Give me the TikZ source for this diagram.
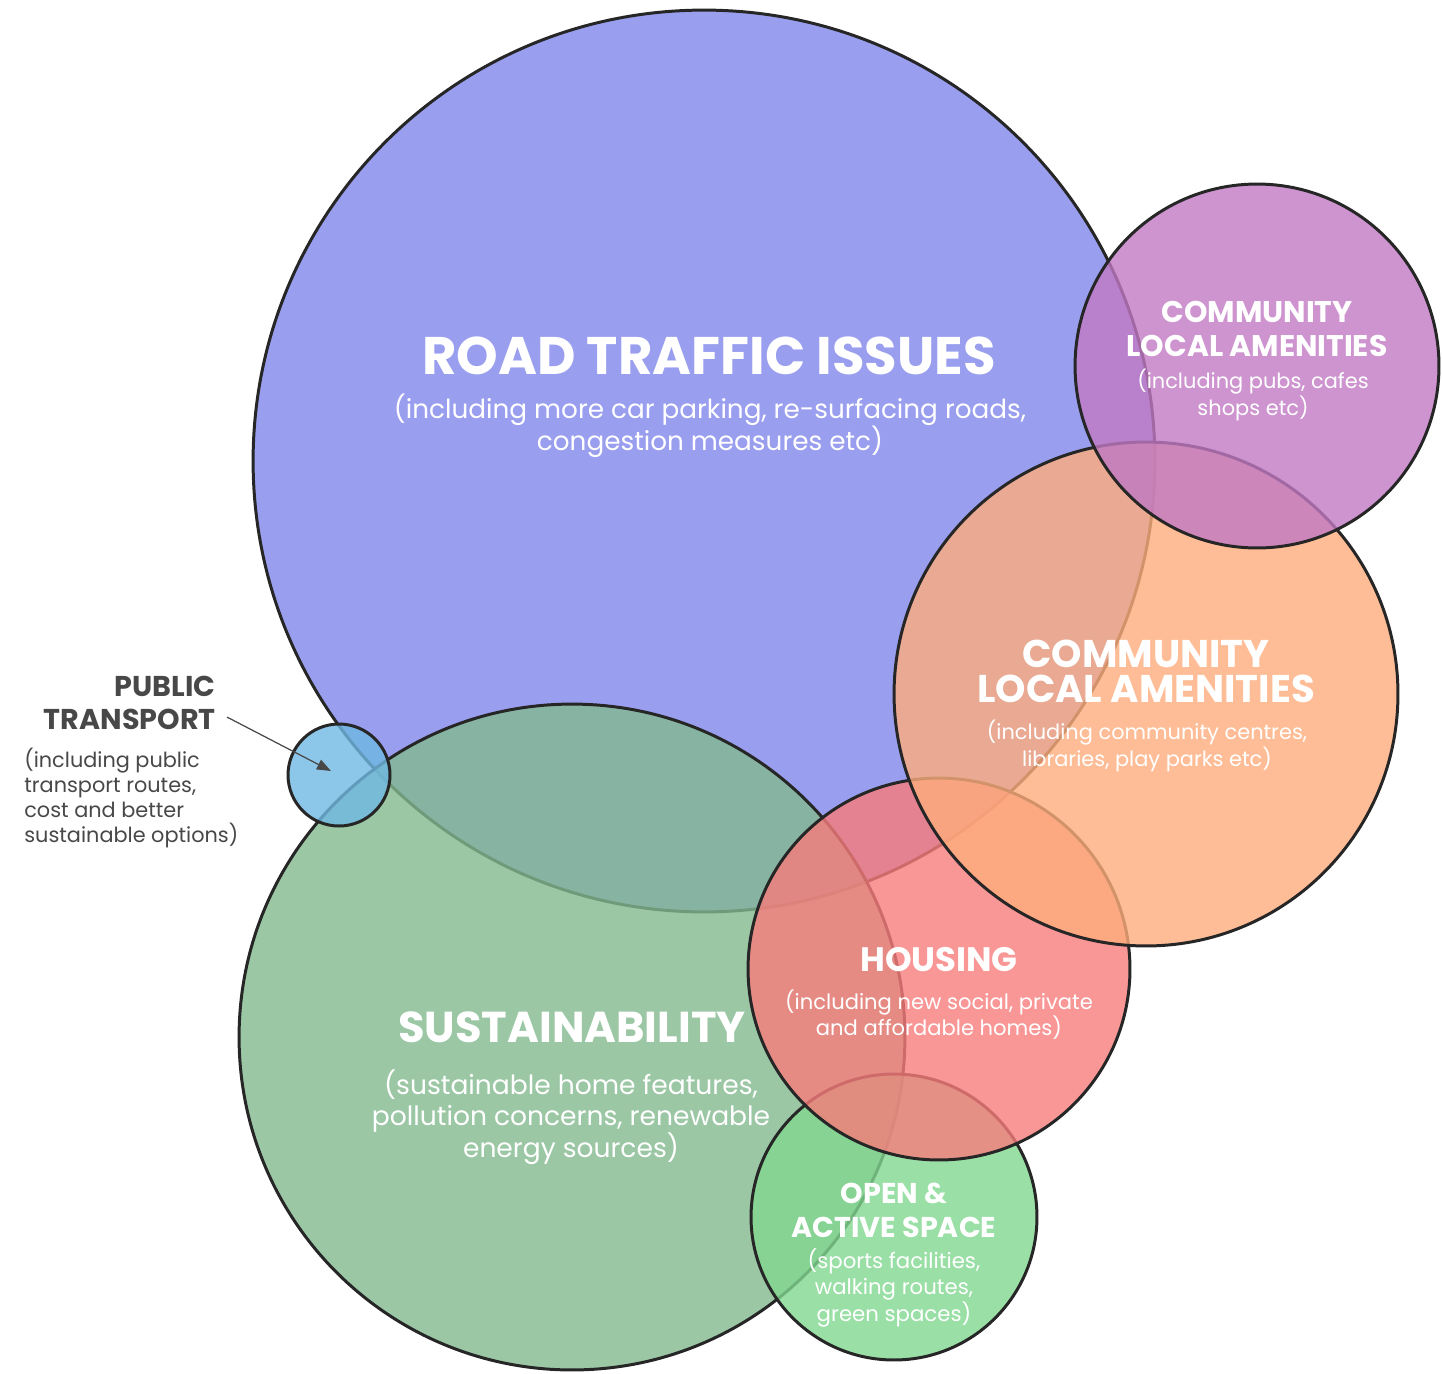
\documentclass[tikz,border=0pt]{standalone}
\usepackage{fontspec}
\setmainfont{Poppins}
\usepackage{tikz}
\usetikzlibrary{arrows.meta, positioning}
\definecolor{roadblue}{RGB}{128,134,234}
\definecolor{sustgreen}{RGB}{130,185,143}
\definecolor{amenorange}{RGB}{254,173,124}
\definecolor{pubpurple}{RGB}{193,121,196}
\definecolor{housered}{RGB}{248,124,124}
\definecolor{opengreen}{RGB}{129,215,144}
\definecolor{ptblue}{RGB}{111,184,226}
\definecolor{rimgrey}{RGB}{38,38,38}
\definecolor{labelgrey}{RGB}{72,72,72}

\begin{document}
\begin{tikzpicture}[
  x=0.02cm, y={(0cm,-0.02cm)},
  bubble/.style={
    circle, inner sep=0pt,
    draw=rimgrey, line width=1.7pt,
    fill opacity=0.8
  },
  headline/.style={
    text=white, align=center, inner sep=0pt,
    font=#1\bfseries
  },
  blurb/.style={
    text=white, align=center, inner sep=0pt,
    font=#1
  },
  ptarrow/.style={
    draw=labelgrey, line width=0.7pt,
    -{Triangle[length=8pt,width=6pt]}
  }
]
  \useasboundingbox (0,0) rectangle (1442,1373);

  % Circles bottom-up
  \node[bubble, fill=roadblue,   minimum size=18.04cm] (road)  at (704,461)  {};
  \node[bubble, fill=sustgreen,  minimum size=13.32cm] (sust)  at (572,1037) {};
  \node[bubble, fill=opengreen,  minimum size=5.72cm]  (open)  at (894,1217) {};
  \node[bubble, fill=housered,   minimum size=7.64cm]  (house) at (939,969)  {};
  \node[bubble, fill=amenorange, minimum size=10.08cm] (amen)  at (1146,694) {};
  \node[bubble, fill=pubpurple,  minimum size=7.28cm]  (pubs)  at (1257,366) {};
  \node[bubble, fill=ptblue,     minimum size=2.04cm]  (ptcircle) at (339,775) {};

  % Labels
  \node[headline=\fontsize{30.1}{34}\selectfont] (roadtitle) at (709,356)
        {ROAD TRAFFIC ISSUES};
  \node[blurb=\fontsize{14.95}{18.1}\selectfont] (roadtext) at (710,426)
        {(including more car parking, re-surfacing roads,\\congestion measures etc)};

  \node[headline=\fontsize{17}{19.3}\selectfont] (pubstitle) at (1257,329)
        {COMMUNITY\\LOCAL AMENITIES};
  \node[blurb=\fontsize{11.9}{14.2}\selectfont] (pubstext) at (1253,395)
        {(including pubs, cafes\\shops etc)};

  \node[headline=\fontsize{22}{20}\selectfont] (amentitle) at (1146,671)
        {COMMUNITY\\LOCAL AMENITIES};
  \node[blurb=\fontsize{11.9}{14.2}\selectfont] (amentext) at (1147,746)
        {(including community centres,\\libraries, play parks etc)};

  \node[headline=\fontsize{19.3}{22}\selectfont] (housetitle) at (939,960)
        {HOUSING};
  \node[blurb=\fontsize{12}{14.7}\selectfont] (housetext) at (939,1015)
        {(including new social, private\\and affordable homes)};

  \node[headline=\fontsize{24.6}{28}\selectfont] (susttitle) at (572,1027)
        {SUSTAINABILITY};
  \node[blurb=\fontsize{15.1}{18.1}\selectfont] (susttext) at (571,1117)
        {(sustainable home features,\\pollution concerns, renewable\\energy sources)};

  \node[headline=\fontsize{16.3}{19.3}\selectfont] (opentitle) at (894,1210)
        {OPEN \&\\ACTIVE SPACE};
  \node[blurb=\fontsize{12.1}{14.4}\selectfont] (opentext) at (894,1288)
        {(sports facilities,\\walking routes,\\green spaces)};

  % Public transport callout
  \node[headline=\fontsize{16.3}{18.7}\selectfont, text=labelgrey, align=right,
        anchor=east] (pttitle) at (216,703) {PUBLIC\\TRANSPORT};
  \node[blurb=\fontsize{11.85}{14.3}\selectfont, text=labelgrey, align=left,
        anchor=west] (pttext) at (24,798)
        {(including public\\transport routes,\\cost and better\\sustainable options)};
  \coordinate (ptaim) at (331,771);
  \draw[ptarrow] ([shift={(11,-13)}]pttitle.south east) -- (ptaim);
\end{tikzpicture}
\end{document}
